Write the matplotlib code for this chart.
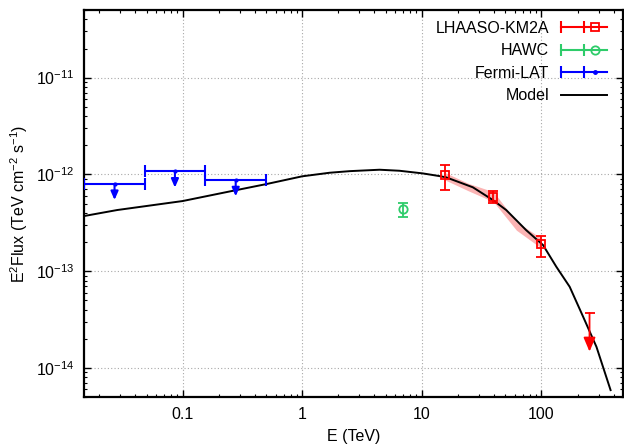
import math
import matplotlib
matplotlib.use("Agg")
import matplotlib.pyplot as plt
from matplotlib.lines import Line2D
from matplotlib.legend_handler import HandlerLine2D, HandlerTuple
from matplotlib.ticker import FixedLocator, LogLocator, FuncFormatter, NullFormatter

plt.rcParams['font.family'] = ['Liberation Sans', 'DejaVu Sans']
plt.rcParams['mathtext.default'] = 'regular'

# LHAASO-KM2A spectral points (TeV, TeV cm^-2 s^-1)
km2a_e = [15.7, 39.7, 100.0]
km2a_f = [9.8e-13, 5.82e-13, 1.89e-13]
km2a_lo = [6.93e-13, 5.05e-13, 1.41e-13]
km2a_hi = [1.26e-12, 6.72e-13, 2.30e-13]
# KM2A upper limit
km2a_ul_e = [252.0]
km2a_ul_f = [3.68e-14]

# KM2A fitted spectrum band
band_e = [15.7, 24.5, 39.7, 61.7, 100.0]
band_lo = [8.73e-13, 6.76e-13, 5.21e-13, 2.65e-13, 1.72e-13]
band_hi = [1.04e-12, 8.07e-13, 6.61e-13, 3.24e-13, 2.18e-13]

# HAWC
hawc_e = [6.93]
hawc_f = [4.35e-13]
hawc_lo = [3.65e-13]
hawc_hi = [5.08e-13]

# Fermi-LAT upper limits with bin edges
lat_e = [0.027, 0.0863, 0.278]
lat_emin = [0.0150, 0.0482, 0.1545]
lat_emax = [0.0482, 0.1545, 0.502]
lat_ul = [8.0e-13, 1.074e-12, 8.73e-13]

# model SED
model_e = [0.015, 0.0284, 0.1, 0.249, 0.502, 1.0, 1.70, 2.5, 4.43,
           6.50, 10.2, 14.1, 16.0, 26.7, 39.3, 50.7, 74.5, 103.0, 133.0,
           172.0, 223.0, 288.0, 378.0]
model_f = [3.71e-13, 4.28e-13, 5.30e-13, 6.67e-13, 7.94e-13, 9.55e-13,
           1.04e-12, 1.08e-12, 1.117e-12, 1.09e-12, 1.023e-12,
           9.59e-13, 9.31e-13, 7.35e-13, 5.42e-13, 4.28e-13, 2.65e-13,
           1.86e-13, 1.11e-13, 6.89e-14, 3.37e-14, 1.65e-14, 5.89e-15]

red = '#ff0000'
green = '#2ecc6a'
blue = '#0000ff'
fs = 11.5

fig = plt.figure(figsize=(6.24, 4.45), dpi=100)
ax = fig.add_axes([84 / 624, 1 - 397 / 445, 539 / 624, 387 / 445])
ax.set_xscale('log')
ax.set_yscale('log')
ax.set_xlim(0.015, 480)
ax.set_ylim(5e-15, 5e-11)

ax.fill_between(band_e, band_lo, band_hi, color='#fbb4b4', lw=0, zorder=2)
ax.plot(model_e, model_f, color='black', lw=1.4, zorder=3)

# KM2A points
yerr = [[f - l for f, l in zip(km2a_f, km2a_lo)],
        [h - f for f, h in zip(km2a_f, km2a_hi)]]
ax.errorbar(km2a_e, km2a_f, yerr=yerr, fmt='s', ms=6, mfc='none', mec=red,
            mew=1.3, color=red, elinewidth=1.3, capsize=3.3, capthick=1.3,
            zorder=5)
for e, f in zip(km2a_ul_e, km2a_ul_f):
    ax.plot([e], [f], marker='_', ms=7, mew=1.3, color=red, zorder=5)
    ax.annotate('', xy=(e, f * 0.4), xytext=(e, f),
                arrowprops=dict(arrowstyle='-|>,head_length=0.85,head_width=0.36',
                                color=red, lw=1.3, mutation_scale=10,
                                shrinkA=0, shrinkB=0), zorder=5)

# HAWC point
ax.errorbar(hawc_e, hawc_f,
            yerr=[[f - l for f, l in zip(hawc_f, hawc_lo)],
                  [h - f for f, h in zip(hawc_f, hawc_hi)]],
            fmt='o', ms=6, mfc='none', mec=green, mew=1.3, color=green,
            elinewidth=1.3, capsize=3.3, capthick=1.3, zorder=5)

# Fermi-LAT upper limits
xerr = [[e - lo for e, lo in zip(lat_e, lat_emin)],
        [hi - e for e, hi in zip(lat_e, lat_emax)]]
ax.errorbar(lat_e, lat_ul, xerr=xerr, fmt='.', ms=4, color=blue,
            elinewidth=1.5, capsize=4, capthick=1.5, zorder=5)
for e, f in zip(lat_e, lat_ul):
    ax.annotate('', xy=(e, f * 0.68), xytext=(e, f),
                arrowprops=dict(arrowstyle='-|>,head_length=0.5,head_width=0.22',
                                color=blue, lw=1.5, mutation_scale=10,
                                shrinkA=0, shrinkB=0), zorder=5)

# axes styling
for s in ax.spines.values():
    s.set_linewidth(1.6)
ax.xaxis.set_major_locator(FixedLocator([0.1, 1, 10, 100]))
ax.xaxis.set_minor_locator(LogLocator(base=10, subs=range(2, 10), numticks=20))
ax.xaxis.set_minor_formatter(NullFormatter())
ax.xaxis.set_major_formatter(FuncFormatter(lambda v, p: '%g' % v))
ax.yaxis.set_major_locator(FixedLocator([1e-14, 1e-13, 1e-12, 1e-11]))
ax.yaxis.set_minor_locator(LogLocator(base=10, subs=range(2, 10), numticks=20))
ax.yaxis.set_minor_formatter(NullFormatter())
ax.yaxis.set_major_formatter(
    FuncFormatter(lambda v, p: '$10^{%d}$' % round(math.log10(v))))
ax.tick_params(which='both', direction='in', top=True, right=True,
               labelsize=fs)
ax.tick_params(which='major', length=5, width=1.0, pad=7)
ax.tick_params(which='minor', length=2.5, width=0.8)
ax.grid(which='major', color='#a8a8a8', lw=0.8, ls=(0, (1, 2)))
ax.set_axisbelow(True)

ax.set_xlabel('E (TeV)', fontsize=fs, labelpad=5)
ax.set_ylabel('E$^2$Flux (TeV cm$^{-2}$ s$^{-1}$)', fontsize=fs, labelpad=4)

# legend with horizontal error bar samples
def make_handle(color, **marker):
    caps = Line2D([], [], color=color, lw=1.5, marker='|', ms=8, mew=1.5)
    mid = Line2D([], [], color=color, lw=1.5, **marker)
    return caps, mid

h_km2a = make_handle(red, marker='s', ms=6, mfc='none', mec=red, mew=1.3)
h_hawc = make_handle(green, marker='o', ms=6, mfc='none', mec=green, mew=1.3)
h_lat = make_handle(blue, marker='.', ms=5)
h_model = Line2D([], [], color='black', lw=1.4)

hmap = {tuple: HandlerTuple(ndivide=None)}
for caps, _ in (h_km2a, h_hawc, h_lat):
    hmap[caps] = HandlerLine2D(numpoints=2, marker_pad=0)

ax.legend([h_km2a, h_hawc, h_lat, h_model],
          ['LHAASO-KM2A', 'HAWC', 'Fermi-LAT', 'Model'],
          handler_map=hmap, loc='upper right',
          bbox_to_anchor=(0.97, 0.972), frameon=False, fontsize=fs,
          markerfirst=False, handlelength=2.9, handletextpad=0.7,
          labelspacing=0.47, borderpad=0, borderaxespad=0, numpoints=1)

fig.savefig('out.png', dpi=100)
